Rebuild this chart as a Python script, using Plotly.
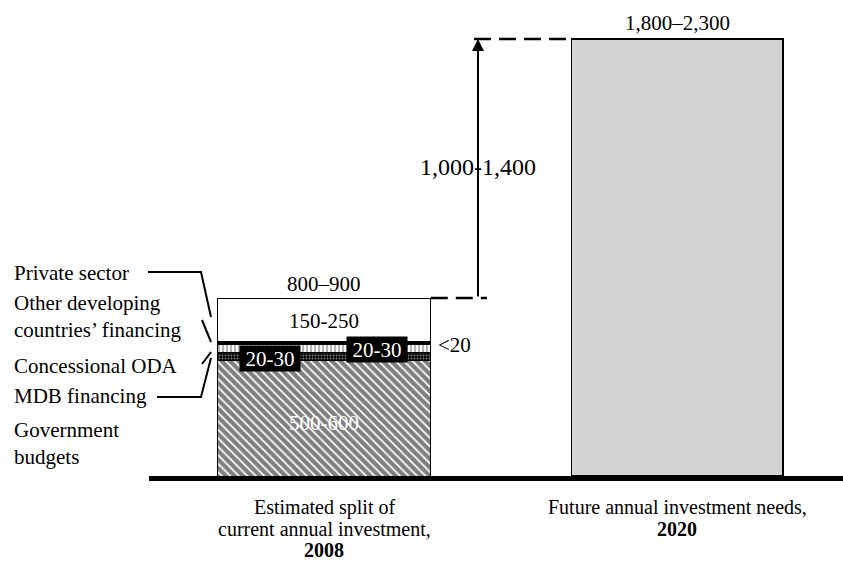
import plotly.graph_objects as go

# ---------------- data ----------------
column_label_lines = [["Estimated split of", "current annual investment,", "<b>2008</b>"],
                      ["Future annual investment needs,", "<b>2020</b>"]]
segment_names = ["Government<br>budgets", "MDB financing", "Concessional ODA",
                 "Other developing<br>countries’ financing", "Private sector"]
segment_values = [540, 40, 35, 15, 205]          # drawn heights of the 2008 split
segment_ranges = ["500-600", "20-30", "20-30", "<20", "150-250"]
current_total_range = "800–900"
future_need_value = [2050]
future_need_range = "1,800–2,300"
gap_range = "1,000-1,400"

# ---------------- layout geometry ----------------
W, H = 843, 565
PLOT_BOTTOM = 476                     # pixel row of baseline
Y_SCALE = 437 / 2050                  # px per unit
Y_MAX = PLOT_BOTTOM / Y_SCALE
X_CENTER0, X_STEP = 324, 353          # pixel centre of first column, px between columns
BAR_W = 0.605
FONT = "Liberation Serif, Times New Roman, serif"


def xd(px):   # pixel -> x data
    return (px - X_CENTER0) / X_STEP


def yd(py):   # pixel -> y data
    return (PLOT_BOTTOM - py) / Y_SCALE


def xp(px):   # pixel -> paper x
    return px / W


def yp(py):   # pixel -> paper y
    return (PLOT_BOTTOM - py) / PLOT_BOTTOM


seg_markers = [
    dict(color="white", line=dict(color="black", width=1),
         pattern=dict(shape="\\", fgcolor="black", bgcolor="white", size=6, solidity=0.7)),
    dict(color="black", line=dict(color="black", width=1),
         pattern=dict(shape=".", fgcolor="white", bgcolor="black", size=3, solidity=0.35)),
    dict(color="white", line=dict(color="black", width=1),
         pattern=dict(shape="|", fgcolor="black", bgcolor="white", size=4, solidity=0.3)),
    dict(color="black", line=dict(color="black", width=1)),
    dict(color="white", line=dict(color="black", width=1)),
]

fig = go.Figure()
for name, val, mk in zip(segment_names, segment_values, seg_markers):
    fig.add_trace(go.Bar(x=[0], y=[val], name=name, width=BAR_W, marker=mk,
                         showlegend=False, hoverinfo="skip"))
fig.add_trace(go.Bar(x=[1], y=future_need_value, width=0.60,
                     marker=dict(color="#d3d3d3", line=dict(color="black", width=1.2)),
                     showlegend=False, hoverinfo="skip"))

current_total = sum(segment_values)
x_arrow = xd(478)

shapes = []
# dashed connectors
shapes.append(dict(type="line", xref="x", yref="y", x0=BAR_W / 2, x1=xd(487),
                   y0=current_total, y1=current_total,
                   line=dict(color="black", width=2.5, dash="17px,8px")))
shapes.append(dict(type="line", xref="x", yref="y", x0=xd(474), x1=1 - 0.30,
                   y0=future_need_value[0], y1=future_need_value[0],
                   line=dict(color="black", width=2.5, dash="17px,8px")))
# leader lines
leaders = [
    [(148, 272), (201, 272), (211, 317)],
    [(202, 320), (211, 342)],
    [(202, 364), (211, 352)],
    [(157, 397), (201, 397), (211, 358)],
]
for pts in leaders:
    path = "M " + " L ".join(f"{xp(a):.5f},{yp(b):.5f}" for a, b in pts)
    shapes.append(dict(type="path", xref="paper", yref="paper", path=path,
                       line=dict(color="black", width=2)))

ann = []


def txt(text, x, y, size=21, color="black", xref="x", yref="y", xanchor="center", **kw):
    ann.append(dict(text=text, x=x, y=y, xref=xref, yref=yref, showarrow=False,
                    xanchor=xanchor, yanchor="middle",
                    font=dict(family=FONT, size=size, color=color), **kw))


# left legend-style labels
left_label_rows = [273, 316, 366, 396, 443]
for name, row in zip(segment_names[::-1], left_label_rows):
    txt(name, xp(12), yp(row), xref="paper", yref="paper", xanchor="left", align="left")

# value labels
txt(segment_ranges[4], 0, yd(321))
txt(segment_ranges[0], 0, yd(423), color="white")
txt(segment_ranges[1], xd(270), yd(358.5), color="white", bgcolor="black",
    width=60, height=25, borderpad=0)
txt(segment_ranges[2], xd(377), yd(349.5), color="white", bgcolor="black",
    width=60, height=25, borderpad=0)
txt(segment_ranges[3], xd(436), yd(345), xanchor="left")
txt(current_total_range, 0, yd(284))
txt(future_need_range, 1, yd(23))
txt(gap_range, x_arrow, yd(167), size=24)

# category labels below the baseline (paper refs so they render outside the axis range)
label_rows = [507, 529, 550]
for ci, lines in enumerate(column_label_lines):
    for line, row in zip(lines, label_rows):
        txt(line, xp(X_CENTER0 + ci * X_STEP), yp(row), size=20, xref="paper", yref="paper")

# arrow
ann.append(dict(text="", x=x_arrow, y=future_need_value[0], ax=x_arrow, ay=current_total,
                xref="x", yref="y", axref="x", ayref="y", showarrow=True,
                arrowhead=2, arrowsize=1.2, arrowwidth=2, arrowcolor="black",
                standoff=0, startstandoff=0))

fig.update_layout(
    width=W, height=H,
    margin=dict(l=0, r=0, t=0, b=H - PLOT_BOTTOM),
    paper_bgcolor="white", plot_bgcolor="white",
    barmode="stack",
    font=dict(family=FONT, size=20, color="black"),
    xaxis=dict(domain=[xp(149), 1], range=[xd(149), xd(843)],
               tickvals=[0, 1], showticklabels=False,
               showgrid=False, zeroline=False, showline=True, linewidth=5,
               linecolor="black", ticks=""),
    yaxis=dict(range=[0, Y_MAX], visible=False, showgrid=False, zeroline=False),
    shapes=shapes,
    annotations=ann,
)

fig.write_html("out.html", config={"displayModeBar": False},
               post_script="document.body.style.margin='0';")
